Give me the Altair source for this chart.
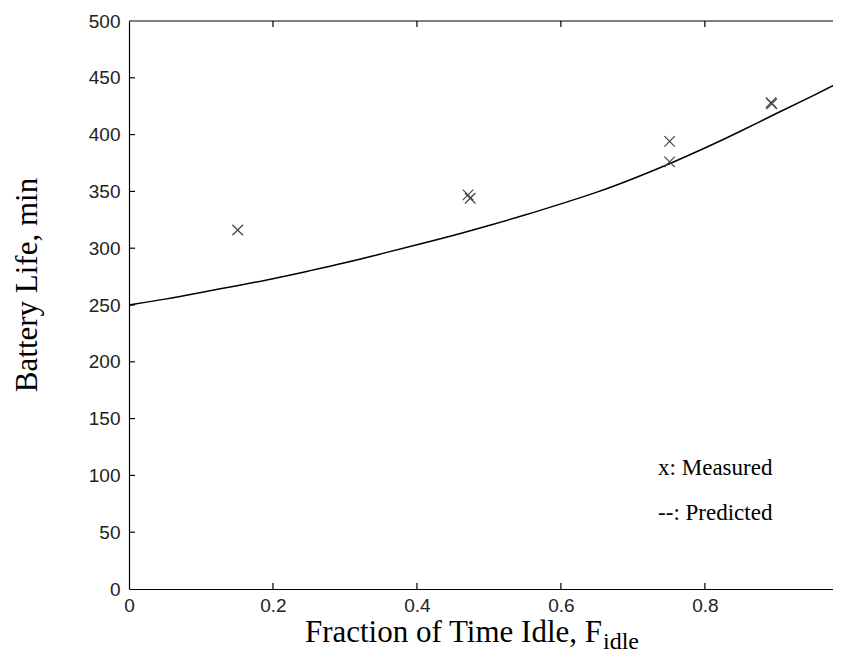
import altair as alt
import pandas as pd

# ---- data ----
line_x = [0, 0.05, 0.1, 0.15, 0.2, 0.25, 0.3, 0.35, 0.4, 0.45, 0.5, 0.55, 0.6,
          0.65, 0.7, 0.75, 0.8, 0.85, 0.9, 0.95, 0.99]
line_y = [250, 255, 261, 267, 273, 280, 287, 295, 303, 311, 320, 329, 339,
          349, 361, 374, 388, 403, 419, 434, 447]
meas_x = [0.151, 0.471, 0.474, 0.751, 0.751, 0.892, 0.893]
meas_y = [316, 347, 344, 394, 376, 428, 427]
x_ticks = [0, 0.2, 0.4, 0.6, 0.8]
y_ticks = [0, 50, 100, 150, 200, 250, 300, 350, 400, 450, 500]
legend_labels = ["x: Measured", "--: Predicted"]
legend_x = [0.735, 0.735]
legend_y = [100, 61]

W, H = 704, 568
XMAX = 0.978

xscale = alt.Scale(domain=[0, XMAX], nice=False, zero=False)
yscale = alt.Scale(domain=[0, 500], nice=False)

tick_font = "Liberation Sans"
serif = "Liberation Serif"

line_df = pd.DataFrame({"x": line_x, "y": line_y})
meas_df = pd.DataFrame({"x": meas_x, "y": meas_y})
xt_df = pd.DataFrame({"x": x_ticks[1:]})
yt_df = pd.DataFrame({"y": y_ticks[1:-1]})
leg_df = pd.DataFrame({"label": legend_labels, "x": legend_x, "y": legend_y})
one = pd.DataFrame({"a": [0]})

x_axis = alt.Axis(values=x_ticks, format="~g", title=None, ticks=False, grid=False,
                  domainColor="black", domainWidth=1.2, labelFont=tick_font,
                  labelFontSize=19, labelColor="#222", labelPadding=7,
                  labelFlush=False)
y_axis = alt.Axis(values=y_ticks, format="d", title=None, ticks=False, grid=False,
                  domainColor="black", domainWidth=1.2, labelFont=tick_font,
                  labelFontSize=19, labelColor="#222", labelPadding=9,
                  labelFlush=False)

line = alt.Chart(line_df).mark_line(color="black", strokeWidth=1.5, clip=True,
                                    interpolate="basis").encode(
    x=alt.X("x:Q", scale=xscale, axis=x_axis),
    y=alt.Y("y:Q", scale=yscale, axis=y_axis),
)

points = alt.Chart(meas_df).mark_point(
    shape="M-1,-1L1,1M1,-1L-1,1", size=110, filled=False, stroke="#444",
    strokeWidth=1.2, opacity=1,
).encode(x=alt.X("x:Q", scale=xscale), y=alt.Y("y:Q", scale=yscale))

xt_bottom = alt.Chart(xt_df).mark_rule(color="black", strokeWidth=1.2).encode(
    x=alt.X("x:Q", scale=xscale), y=alt.value(H), y2=alt.value(H - 6))
xt_top = alt.Chart(xt_df).mark_rule(color="black", strokeWidth=1.2).encode(
    x=alt.X("x:Q", scale=xscale), y=alt.value(0), y2=alt.value(6))
yt_left = alt.Chart(yt_df).mark_rule(color="black", strokeWidth=1.2).encode(
    y=alt.Y("y:Q", scale=yscale), x=alt.value(0), x2=alt.value(6))
top_border = alt.Chart(one).mark_rule(color="black", strokeWidth=1.2).encode(
    x=alt.value(0), x2=alt.value(W), y=alt.value(0))

legend = alt.Chart(leg_df).mark_text(
    font=serif, fontSize=23, align="left", baseline="alphabetic", color="black"
).encode(x=alt.X("x:Q", scale=xscale), y=alt.Y("y:Q", scale=yscale), text="label:N")

x_title = alt.Chart(one).mark_text(
    text="Fraction of Time Idle, F", font=serif, fontSize=31, align="right",
    baseline="alphabetic", color="black"
).encode(x=alt.value(473), y=alt.value(621))
x_sub = alt.Chart(one).mark_text(
    text="idle", font=serif, fontSize=24, align="left",
    baseline="alphabetic", color="black"
).encode(x=alt.value(474), y=alt.value(628))
y_title = alt.Chart(one).mark_text(
    text="Battery Life, min", font=serif, fontSize=31, align="center",
    baseline="alphabetic", angle=270, color="black"
).encode(x=alt.value(-92), y=alt.value(264))

chart = alt.layer(
    line, points, xt_bottom, xt_top, yt_left, top_border, legend, x_title, x_sub, y_title
).properties(
    width=W, height=H,
    autosize=alt.AutoSizeParams(type="none"),
    padding={"left": 121, "top": 13, "right": 0, "bottom": 65},
    background="white",
).configure_view(strokeWidth=0)

chart.save("out.html", embed_options={"renderer": "svg", "actions": False})
